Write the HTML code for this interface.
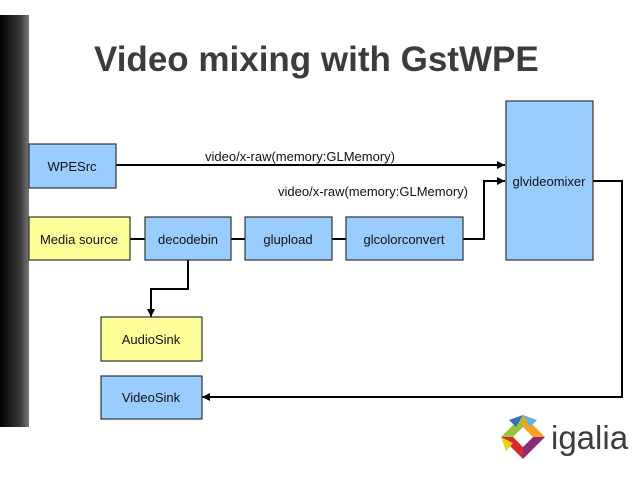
<!DOCTYPE html>
<html><head><meta charset="utf-8"><style>
html,body{margin:0;padding:0;background:#fff;}
svg{display:block;}
text{font-family:"Liberation Sans",sans-serif;}
</style></head><body>
<svg width="638" height="479" viewBox="0 0 638 479" xmlns="http://www.w3.org/2000/svg">
<defs>
<linearGradient id="bar" x1="0" x2="1" y1="0" y2="0">
<stop offset="0" stop-color="#000"/><stop offset="0.7" stop-color="#3a3a3a"/><stop offset="1" stop-color="#777"/>
</linearGradient>
<marker id="ar" viewBox="0 0 10 10" refX="10" refY="5" markerWidth="12" markerHeight="8" markerUnits="userSpaceOnUse" orient="auto">
<path d="M0,0 L10,5 L0,10 z" fill="#000"/></marker>
</defs>
<rect x="0" y="15" width="29" height="412" fill="url(#bar)"/>
<text x="94" y="71" font-size="35" font-weight="bold" fill="#3c3c3c">Video mixing with GstWPE</text>
<g stroke="#000" stroke-width="2" fill="none">
<line x1="116" y1="165" x2="505" y2="165" marker-end="url(#ar)"/>
<polyline points="463,239 484,239 484,181 505,181" marker-end="url(#ar)"/>
<line x1="130" y1="239" x2="145" y2="239"/>
<line x1="231" y1="239" x2="245" y2="239"/>
<line x1="332" y1="239" x2="346" y2="239"/>
<polyline points="188,260 188,289 151,289 151,317" marker-end="url(#ar)"/>
<polyline points="593,181 622,181 622,397 202,397" marker-end="url(#ar)"/>
</g>
<g stroke="#333" stroke-width="1.2">
<rect x="29" y="144" width="87" height="44" fill="#99ccff"/>
<rect x="29" y="217" width="101" height="43" fill="#ffff99"/>
<rect x="145" y="217" width="86" height="43" fill="#99ccff"/>
<rect x="245" y="217" width="87" height="43" fill="#99ccff"/>
<rect x="346" y="217" width="117" height="43" fill="#99ccff"/>
<rect x="506" y="101" width="87" height="159" fill="#99ccff"/>
<rect x="101" y="317" width="101" height="44" fill="#ffff99"/>
<rect x="101" y="376" width="101" height="43" fill="#99ccff"/>
</g>
<g font-size="13" fill="#111" text-anchor="middle">
<text x="72" y="171">WPESrc</text>
<text x="79" y="244">Media source</text>
<text x="188" y="244">decodebin</text>
<text x="288" y="244">glupload</text>
<text x="404" y="244">glcolorconvert</text>
<text x="549" y="186">glvideomixer</text>
<text x="151" y="344">AudioSink</text>
<text x="151" y="402">VideoSink</text>
<text x="300" y="161">video/x-raw(memory:GLMemory)</text>
<text x="373" y="196">video/x-raw(memory:GLMemory)</text>
</g>
<g transform="translate(523,437)">
<path d="M0,-22 L22,0 L0,0z" fill="#f7a21b"/>
<path d="M22,0 L0,22 L0,0z" fill="#8e2a7c"/>
<path d="M0,22 L-22,0 L0,0z" fill="#d62b2b"/>
<path d="M-22,0 L0,-22 L0,0z" fill="#9ac43c"/>
<path d="M-14,-17 L0,-22 L-7,-10z" fill="#3a6fb8"/>
<path d="M0,-22 L14,-17 L7,-10z" fill="#6ab0e0"/>
<path d="M-22,0 L-17,14 L-10,6z" fill="#e8d21c"/>
<circle cx="0" cy="0" r="22" fill="none" stroke="#fff" stroke-width="0"/>
<path d="M0,-10 L10,0 L0,10 L-10,0z" fill="#fff"/>
</g>
<text x="551" y="449" font-size="33" fill="#3c3c3c">igalia</text>
</svg>
</body></html>
